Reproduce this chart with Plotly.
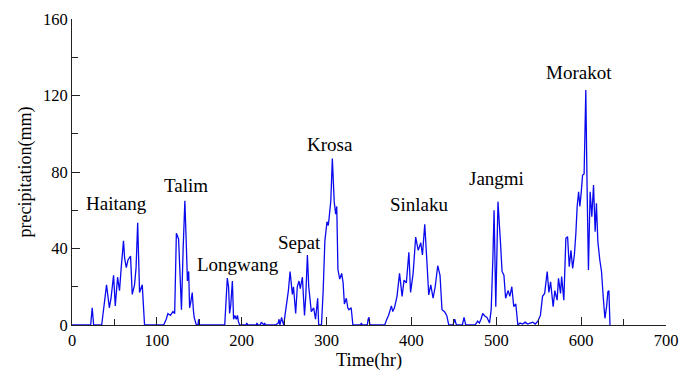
import numpy as np
import plotly.graph_objects as go

# ---- data (hour, precipitation mm) ----
haitang_hr = [0, 22, 23.8, 25.5, 35, 37, 40.7, 44, 46, 49, 51, 53.7, 56, 58, 60.7, 62, 64, 66, 69, 71, 73.7, 75.5, 77.4, 79.6, 81, 82.8, 85.5]
haitang_mm = [0, 0, 9, 0, 0, 8, 21, 9, 14, 26, 10, 25, 18, 30, 44, 35, 30, 34, 36, 16, 21, 30, 53.5, 17, 19, 21, 0]

talim_hr = [108, 111, 113, 116, 119, 121, 123, 125.6, 127, 129, 131, 133, 134.5, 136, 137.5, 138.6, 140, 141.7, 143, 144, 146.5, 148.5, 149.2, 150]
talim_mm = [0, 3, 6, 5, 7, 6, 48, 45, 30, 8, 40, 65, 45, 23, 28, 9, 12, 17, 8, 4, 0, 0, 3, 0]

longwang_hr = [180, 181.5, 183, 184.5, 185.7, 187, 189, 190.4, 192, 193.6, 195, 196, 197.5]
longwang_mm = [0, 14, 24.5, 20, 6, 10, 23, 3, 5, 3, 5, 2, 0]

gap1_hr = [205, 206, 207, 217, 218, 219, 222, 223, 226, 227, 228, 240, 243, 244, 245, 246, 247, 248, 249]
gap1_mm = [0, 1, 0, 0, 1, 0, 0, 1.5, 0, 1, 0, 0, 1, 3, 0, 2, 4, 2, 0]

sepat_hr = [249.5, 251, 252.6, 255, 257, 259.7, 261, 263.6, 265.5, 267.5, 269, 271.5, 274, 275.5, 277.4, 279, 282, 284.8, 287, 289.5, 290.7]
sepat_mm = [0, 5, 9.6, 18, 28, 16, 20, 6, 20, 23, 19, 25, 5, 15, 36.6, 20, 7, 9, 3, 14, 0]

krosa_hr = [294, 296, 298, 300.5, 302, 303, 305, 306.8, 309, 310.7, 312, 313.4, 315.5, 317.8, 319.5, 321, 323.3, 325, 326.4, 329, 331]
krosa_mm = [0, 18, 44, 54, 52, 56, 65, 87, 64.5, 58, 62, 29, 24, 27, 22, 11, 14, 9, 8, 9, 0]

gap2_hr = [340, 341, 342, 348, 349, 350, 351]
gap2_mm = [0, 1, 0, 0, 3, 4, 0]

sinlaku_hr = [368.5, 371, 373, 376.4, 378, 380, 383, 386, 389, 391.3, 394, 397, 399, 402, 405, 408, 411, 413, 415.7, 418, 420.4, 422.8,
              425.5, 428, 431, 433.7, 436, 439, 441.6, 444, 449, 451, 453, 460, 462, 464]
sinlaku_mm = [0, 3, 5, 10, 7, 9, 15, 27, 15, 23.5, 22, 38, 17, 27, 46, 39, 43, 36.6, 52.6, 35, 15.7, 21,
              14, 20, 31, 26, 8, 7, 5, 0, 0, 3, 0, 0, 4, 0]

jangmi_hr = [475, 478, 480, 482, 484, 486.5, 489, 492, 494, 496, 497.4, 499.4, 502, 505, 506.8, 509, 511, 514, 516, 518.3, 520.6, 523,
             525.4, 528, 531, 534, 537, 540, 543, 546, 549]
jangmi_mm = [0, 2, 1, 3, 6, 4.7, 4, 1, 8, 35, 60, 9.6, 64.5, 42.7, 28, 26, 14, 18, 15, 20, 9.6, 11,
             0, 1, 0.5, 1.5, 0.5, 1, 1.5, 0.5, 2]

morakot_hr = [551, 552, 554.5, 557, 560, 562, 564, 567, 569, 571.7, 573.3, 575.7, 577, 579.6, 582, 584, 586, 588, 590, 592, 593.8,
              595.3, 597, 598.5, 600, 601.7, 603.5, 605.5, 607, 608.6, 610.6, 612.6, 614.6, 616.5, 618, 619.7, 622, 624, 626,
              628, 630, 631.5, 632.7, 634]
morakot_mm = [4, 5, 15, 16.5, 28, 17, 22.6, 9.6, 18, 13, 24.4, 16.5, 25.3, 13, 45.3, 46.2, 30.5, 39, 29.6, 36.6, 48,
              62, 69.7, 62, 68.8, 78.4, 79, 122.9, 72.3, 28.8, 69.7, 56.6, 73.2, 48.8, 63.6, 43.6, 34, 28, 14.8,
              3.5, 9.6, 17.4, 18, 0]

storm_names = ["Haitang", "Talim", "Longwang", "Sepat", "Krosa", "Sinlaku", "Jangmi", "Morakot"]
label_hr = [52.5, 134, 196, 268, 304, 410, 500.5, 597]
label_mm = [63.3, 73.2, 31.4, 42.9, 94.3, 63.0, 76.5, 131.9]

hours = np.concatenate([haitang_hr, talim_hr, longwang_hr, gap1_hr, sepat_hr, krosa_hr, gap2_hr, sinlaku_hr, jangmi_hr, morakot_hr])
precip = np.concatenate([haitang_mm, talim_mm, longwang_mm, gap1_mm, sepat_mm, krosa_mm, gap2_mm, sinlaku_mm, jangmi_mm, morakot_mm])

FONT = "Liberation Serif"

fig = go.Figure()
fig.add_trace(go.Scatter(x=hours, y=precip, mode="lines",
                         line=dict(color="#0a0aef", width=1.3), showlegend=False))

for name, hx, my in zip(storm_names, label_hr, label_mm):
    fig.add_annotation(x=hx, y=my, text=name, showarrow=False,
                       font=dict(family=FONT, size=19, color="black"))

axis_common = dict(showline=True, linecolor="#222222", linewidth=1, ticks="inside",
                   tickcolor="#222222", ticklen=8, tickwidth=1, showgrid=False, zeroline=False,
                   tickfont=dict(family=FONT, size=16.5, color="black"), mirror=False,
                   automargin=False)

fig.update_xaxes(range=[0, 700], dtick=100, tick0=0,
                 minor=dict(dtick=50, ticks="inside", ticklen=6, tickcolor="#222222"),
                 title=dict(text="Time(hr)", font=dict(family=FONT, size=18.5, color="black"), standoff=0),
                 **axis_common)
fig.update_yaxes(range=[0, 160], dtick=40, tick0=0,
                 minor=dict(dtick=20, ticks="inside", ticklen=6, tickcolor="#222222"),
                 title=dict(text="precipitation(mm)", font=dict(family=FONT, size=18, color="black"), standoff=6),
                 **axis_common)

fig.update_layout(width=684, height=365, margin=dict(l=64, r=26, t=11, b=48),
                  font=dict(family=FONT),
                  paper_bgcolor="white", plot_bgcolor="white")

fig.write_html("out.html")
